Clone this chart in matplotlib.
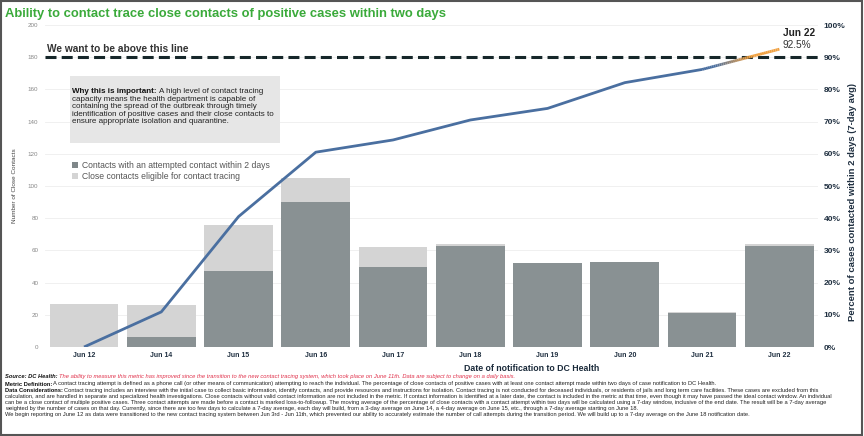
import numpy as np
import matplotlib
matplotlib.use("Agg")
import matplotlib.pyplot as plt
from matplotlib.collections import LineCollection
from matplotlib.patches import Rectangle
import matplotlib.colors as mcolors

plt.rcParams['font.family'] = ['Liberation Sans', 'DejaVu Sans']

# ---- data ----
dates = ["Jun 12", "Jun 14", "Jun 15", "Jun 16", "Jun 17", "Jun 18", "Jun 19", "Jun 20", "Jun 21", "Jun 22"]
eligible = [27, 26, 76, 105, 62, 64, 52, 53, 22, 64]
attempted = [0, 6, 47, 90, 50, 63, 52, 53, 21, 63]
pct_7day = [0.0, 10.9, 40.5, 60.5, 64.3, 70.5, 74.1, 82.1, 86.2, 92.5]
left_ticks = [0, 20, 40, 60, 80, 100, 120, 140, 160, 180, 200]
right_ticks = [0, 10, 20, 30, 40, 50, 60, 70, 80, 90, 100]
target_pct = 90

DARK = "#899193"
LIGHT = "#d4d4d4"
BLUE = "#4a6fa0"
ORANGE = "#f0a040"
NAVY = "#1f2f40"

fig = plt.figure(figsize=(8.64, 4.36), dpi=100)
W, H = 864, 436
def fx(px): return px / W
def fy(py): return 1 - py / H

AX_L, AX_R, AX_B, AX_T = 45.4, 818, 347, 25
ax = fig.add_axes([fx(AX_L), fy(AX_B), fx(AX_R) - fx(AX_L), fy(AX_T) - fy(AX_B)])
x = np.arange(len(dates))
ax.bar(x, eligible, width=0.89, color=LIGHT, zorder=2)
ax.bar(x, attempted, width=0.89, color=DARK, zorder=3)
ax.set_xlim(-0.5, len(dates) - 0.5)
ax.set_ylim(0, 200)
ax.set_yticks(left_ticks)
ax.set_yticklabels([str(t) for t in left_ticks], fontsize=4.5, color="#888888")
ax.tick_params(axis='y', length=0, pad=5)
ax.set_xticks(x)
ax.set_xticklabels(dates, fontsize=5.0, fontweight='bold', color=NAVY)
ax.tick_params(axis='x', length=0, pad=3.5)
ax.grid(axis='y', color="#eeeeee", linewidth=0.6, zorder=0)
for s in ax.spines.values():
    s.set_visible(False)
ax.set_ylabel("Number of Close Contacts", fontsize=4.6, color="#444444", labelpad=8)

ax2 = ax.twinx()
ax2.set_ylim(0, 100)
ax2.set_yticks(right_ticks)
ax2.set_yticklabels([f"{t}%" for t in right_ticks], fontsize=6.0, fontweight='bold', color=NAVY)
ax2.tick_params(axis='y', length=0, pad=4)
for s in ax2.spines.values():
    s.set_visible(False)
ax2.set_ylabel("Percent of cases contacted within 2 days (7-day avg)", fontsize=6.8,
               fontweight='bold', color=NAVY)
ax2.yaxis.set_label_coords((848 - AX_L) / (AX_R - AX_L), (AX_B - 202) / (AX_B - AX_T))

# target line
ax2.axhline(target_pct, color="#16272a", linewidth=2.2, dashes=(3.6, 1.7), zorder=4)

# 7-day line (blue, with blue->orange gradient on last segment)
ax2.plot(x[:-1], pct_7day[:-1], color=BLUE, linewidth=2, zorder=5, solid_capstyle='butt')
n = 40
xs = np.linspace(x[-2], x[-1], n + 1)
ys = np.linspace(pct_7day[-2], pct_7day[-1], n + 1)
segs = [[(xs[i], ys[i]), (xs[i + 1], ys[i + 1])] for i in range(n)]
cmap = mcolors.LinearSegmentedColormap.from_list("bo", [(0, BLUE), (0.15, BLUE), (0.6, ORANGE), (1, ORANGE)])
lc = LineCollection(segs, colors=[cmap(i / n) for i in range(n)], linewidth=2, zorder=5)
ax2.add_collection(lc)

# annotations
fig.text(fx(47), fy(52), "We want to be above this line", fontsize=7.3, fontweight='bold', color="#333333")
fig.text(fx(799.5), fy(36), dates[-1], fontsize=7.3, fontweight='bold', color="#222222", ha='center')
fig.text(fx(797), fy(47.5), f"{pct_7day[-1]}%", fontsize=7.3, color="#333333", ha='center')

# info box
fig.patches.append(Rectangle((fx(70), fy(143)), fx(280) - fx(70), fy(76) - fy(143),
                             transform=fig.transFigure, facecolor="#e6e6e6", edgecolor='none', zorder=1))
BFS = 5.75
box_lines = ["capacity means the health department is capable of",
             "containing the spread of the outbreak through timely",
             "identification of positive cases and their close contacts to",
             "ensure appropriate isolation and quarantine."]
t0 = fig.text(fx(72.5), fy(93), "Why this is important:", fontsize=BFS, fontweight='bold', color="#111111", zorder=2)
fig.canvas.draw()
bb = t0.get_window_extent()
fig.text(bb.x1 / W + fx(2.0), fy(93), "A high level of contact tracing", fontsize=BFS, color="#222222", zorder=2)
for i, ln in enumerate(box_lines):
    fig.text(fx(72.5), fy(100.6 + 7.5 * i), ln, fontsize=BFS, color="#222222", zorder=2)

# legend
fig.patches.append(Rectangle((fx(72), fy(168)), fx(6), fy(162) - fy(168), transform=fig.transFigure,
                             facecolor="#7f8789", edgecolor='none'))
fig.patches.append(Rectangle((fx(72), fy(179)), fx(6), fy(173) - fy(179), transform=fig.transFigure,
                             facecolor=LIGHT, edgecolor='none'))
fig.text(fx(81.5), fy(168), "Contacts with an attempted contact within 2 days", fontsize=6.2, color="#555555")
fig.text(fx(81.5), fy(179), "Close contacts eligible for contact tracing", fontsize=6.2, color="#555555")

# title and x label
fig.text(fx(5), fy(17.5), "Ability to contact trace close contacts of positive cases within two days",
         fontsize=9.4, fontweight='bold', color="#3aaa3a")
fig.text(fx(532), fy(370.5), "Date of notification to DC Health", fontsize=6.3, fontweight='bold',
         color="#1a2a3a", ha='center')

# footnotes
FS = 4.18
def rich(y, parts):
    xpos = fx(5)
    for txt, kw in parts:
        t = fig.text(xpos, fy(y), txt, fontsize=FS, **kw)
        fig.canvas.draw()
        xpos = t.get_window_extent().x1 / W + fx(1.2)

rich(378, [("Source: DC Health:", dict(fontweight='bold', style='italic', color="#111111")),
           ("The ability to measure this metric has improved since the transition to the new contact tracing system, which took place on June 11th. Data are subject to change on a daily basis.",
            dict(style='italic', color="#e0304a"))])
rich(385.5, [("Metric Definition:", dict(fontweight='bold', color="#111111")),
             ("A contact tracing attempt is defined as a phone call (or other means of communication) attempting to reach the individual. The percentage of close contacts of positive cases with at least one contact attempt made within two days of case notification to DC Health.",
              dict(color="#222222"))])
rich(391.5, [("Data Considerations:", dict(fontweight='bold', color="#111111")),
             ("Contact tracing includes an interview with the initial case to collect basic information, identify contacts, and provide resources and instructions for isolation. Contact tracing is not conducted for deceased individuals, or residents of jails and long term care facilities. These cases are excluded from this",
              dict(color="#222222"))])
other = [
    "calculation, and are handled in separate and specialized health investigations. Close contacts without valid contact information are not included in the metric. If contact information is identified at a later date, the contact is included in the metric at that time, even though it may have passed the ideal contact window. An individual",
    "can be a close contact of multiple positive cases. Three contact attempts are made before a contact is marked loss-to-followup. The moving average of the percentage of close contacts with a contact attempt within two days will be calculated using a 7-day window, inclusive of the end date. The result will be a 7-day average",
    "weighted by the number of cases on that day. Currently, since there are too few days to calculate a 7-day average, each day will build, from a 3-day average on June 14, a 4-day average on June 15, etc., through a 7-day average starting on June 18.",
    "We begin reporting on June 12 as data were transitioned to the new contact tracing system between Jun 3rd - Jun 11th, which prevented our ability to accurately estimate the number of call attempts during the transition period. We will build up to a 7-day average on the June 18 notification date.",
]
for i, ln in enumerate(other):
    fig.text(fx(5), fy(397.5 + 6 * i), ln, fontsize=FS, color="#222222")

# outer frame
fig.patches.append(Rectangle((0.001, 0.002), 0.997, 0.996, transform=fig.transFigure,
                             facecolor='none', edgecolor="#555555", linewidth=1.5))

fig.savefig("out.png", dpi=100)
